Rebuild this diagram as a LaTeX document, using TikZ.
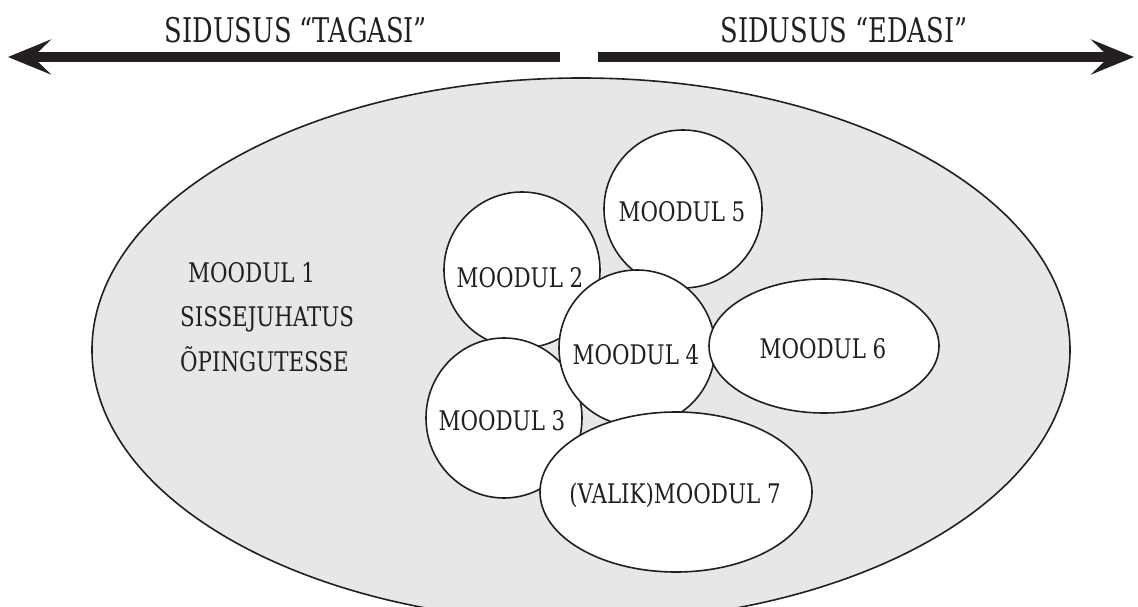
\documentclass[tikz,border=0pt]{standalone}
\usepackage{fontspec}
\setmainfont{DejaVu Serif Condensed}[FakeStretch=0.88]
\newfontfamily\titlefont{DejaVu Serif Condensed}[FakeStretch=0.84]
\usetikzlibrary{arrows.meta}

\definecolor{panelgray}{HTML}{E6E7E8}
\definecolor{inkdark}{HTML}{231F20}

\tikzset{
  bigarrow/.style={line width=10pt, draw=inkdark,
    -{Stealth[length=43pt,width=35pt,inset=18pt]}},
  arrowlabel/.style={font=\titlefont\fontsize{34}{34}\selectfont, text=inkdark, inner sep=0pt},
  modlabel/.style={font=\fontsize{27}{27}\selectfont, text=inkdark, inner sep=0pt},
  outline/.style={draw=inkdark, line width=1.6pt},
  modshape/.style={outline, fill=white},
}

\begin{document}
\begin{tikzpicture}[x=1pt, y=-1pt]
\useasboundingbox (0,0) rectangle (1138,607);

% outer area for the course
\begin{scope}
  \clip (0,0) rectangle (1138,607);
  \filldraw[outline, fill=panelgray] (581,350) ellipse [x radius=489, y radius=272];
\end{scope}

% direction arrows
\coordinate (lstart) at (560,57);
\coordinate (ltip)   at (8,57);
\coordinate (rstart) at (598,57);
\coordinate (rtip)   at (1134,57);
\draw[bigarrow] (lstart) -- (ltip);
\draw[bigarrow] (rstart) -- (rtip);

\node[arrowlabel] (back) at (296,30) {SIDUSUS “TAGASI”};
\node[arrowlabel] (fwd)  at (844,30) {SIDUSUS “EDASI”};

% introductory module
\node[modlabel, anchor=west, align=left] (m1) at (180,317)
  {\hspace{8pt}MOODUL 1\\[17pt]SISSEJUHATUS\\[14pt]ÕPINGUTESSE};

% module cluster (later shapes lie on top of earlier ones)
\filldraw[modshape] (522,270) circle [radius=78];
\node[modlabel] (m2) at (520,278) {MOODUL 2};

\filldraw[modshape] (683,209) circle [radius=79];
\node[modlabel] (m5) at (682,212) {MOODUL 5};

\filldraw[modshape] (504,418) ellipse [x radius=78, y radius=80];
\node[modlabel] (m3) at (502,421) {MOODUL 3};

\filldraw[modshape] (637,348) circle [radius=78];
\node[modlabel] (m4) at (636,355) {MOODUL 4};

\filldraw[modshape] (824,346) ellipse [x radius=115, y radius=67];
\node[modlabel] (m6) at (823,349) {MOODUL 6};

\filldraw[modshape] (676,492) ellipse [x radius=136, y radius=80];
\node[modlabel] (m7) at (675,495) {(VALIK)MOODUL 7};
\end{tikzpicture}
\end{document}
